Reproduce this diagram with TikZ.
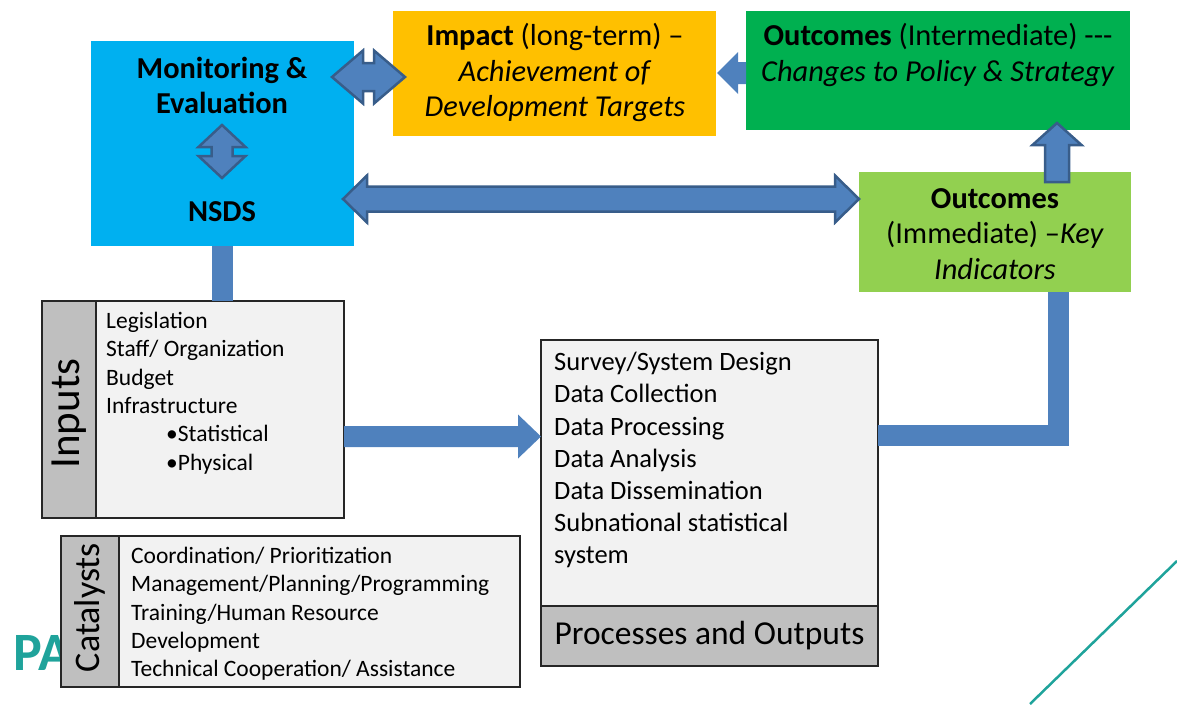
\documentclass[tikz,border=0pt]{standalone}
\usepackage{fontspec}
\setmainfont{Carlito}
\usetikzlibrary{calc}
\definecolor{mecyan}{HTML}{00B0F0}
\definecolor{impactorange}{HTML}{FFC000}
\definecolor{ointgreen}{HTML}{00B050}
\definecolor{oimmgreen}{HTML}{92D050}
\definecolor{arrowblue}{HTML}{4F81BD}
\definecolor{arrowedge}{HTML}{385D8A}
\definecolor{tabgray}{HTML}{BFBFBF}
\definecolor{listgray}{HTML}{F2F2F2}
\definecolor{logoteal}{HTML}{1FA39B}
% horizontal double block arrow: left end, right end, half shaft, half head, head length
\newcommand{\hdblarrow}[5]{%
  \draw[blockarrow] let \p1=(#1), \p2=(#2) in
    (\x1,\y1) -- (\x1+#5,\y1+#4) -- (\x1+#5,\y1+#3) -- (\x2-#5,\y1+#3)
    -- (\x2-#5,\y1+#4) -- (\x2,\y1) -- (\x2-#5,\y1-#4) -- (\x2-#5,\y1-#3)
    -- (\x1+#5,\y1-#3) -- (\x1+#5,\y1-#4) -- cycle;}
% vertical double block arrow: top end, bottom end, half shaft, half head, head length
\newcommand{\vdblarrow}[5]{%
  \draw[blockarrow] let \p1=(#1), \p2=(#2) in
    (\x1,\y1) -- (\x1+#4,\y1-#5) -- (\x1+#3,\y1-#5) -- (\x1+#3,\y2+#5)
    -- (\x1+#4,\y2+#5) -- (\x1,\y2) -- (\x1-#4,\y2+#5) -- (\x1-#3,\y2+#5)
    -- (\x1-#3,\y1-#5) -- (\x1-#4,\y1-#5) -- cycle;}
\begin{document}
\begin{tikzpicture}[x=1pt,y=-1pt,
  box/.style={rectangle, inner sep=0pt, outer sep=0pt},
  listbox/.style={box, draw=black!85, line width=1.3pt, fill=listgray},
  tab/.style={box, draw=black!85, line width=1.3pt, fill=tabgray},
  head/.style={inner sep=0pt, align=center, font=\fontsize{30.4}{35.5}\selectfont},
  items/.style={inner sep=0pt, align=left, anchor=north west, font=\fontsize{23.5}{28.3}\selectfont},
  blockarrow/.style={fill=arrowblue, draw=arrowedge, line width=2.5pt, line join=miter},
  flatarrow/.style={fill=arrowblue},
  conn/.style={draw=arrowblue, line width=21pt}]
\useasboundingbox (0,0) rectangle (1177,704);
% logo and corner line
\node[anchor=base west, inner sep=0pt, text=logoteal, font=\bfseries\fontsize{54}{54}\selectfont] (logo) at (13,670) {PA};
\draw[logoteal, line width=2.5pt] (1030,704) -- (1177,561);
% boxes
\node[box, fill=mecyan, minimum width=263, minimum height=205] (me) at (222.5,143.5) {};
\node[box, fill=impactorange, minimum width=323, minimum height=125] (impact) at (554.5,73.5) {};
\node[box, fill=ointgreen, minimum width=384, minimum height=119] (oint) at (938,70.5) {};
\node[box, fill=oimmgreen, minimum width=272, minimum height=120] (oimm) at (995,232) {};
\node[listbox, minimum width=302, minimum height=217] (inputs) at (193,409.5) {};
\node[tab, minimum width=54, minimum height=217, anchor=north west] (inputstab) at (inputs.north west) {};
\node[listbox, minimum width=459, minimum height=151] (cats) at (290.5,611.5) {};
\node[tab, minimum width=58, minimum height=151, anchor=north west] (catstab) at (cats.north west) {};
\node[listbox, minimum width=337, minimum height=266] (proc) at (709.5,473) {};
\node[tab, minimum width=337, minimum height=60, anchor=north, font=\fontsize{33.5}{33.5}\selectfont] (proclabel) at (proc.south) {Processes and Outputs};
% connectors
\draw[conn] (me.south) -- (me.south |- inputs.north);
\draw[conn] ([yshift=38]proc.east) -| ([xshift=63.5]oimm.south);
% arrows
\coordinate (impacttip) at (717,73);
\fill[flatarrow] let \p1=(impacttip), \p2=(oint.west) in
  (\x1,\y1) -- (\x1+21pt,\y1+21pt) -- (\x1+21pt,\y1+11pt) -- (\x2,\y1+11pt)
  -- (\x2,\y1-11pt) -- (\x1+21pt,\y1-11pt) -- (\x1+21pt,\y1-21pt) -- cycle;
\coordinate (ointtip) at (1057,123);
\coordinate (oimmtail) at (1057,182);
\draw[blockarrow] let \p1=(ointtip), \p2=(oimmtail) in
  (\x1,\y1) -- (\x1+24.5pt,\y1-22pt) -- (\x1+12pt,\y1-22pt) -- (\x1+12pt,\y2)
  -- (\x1-12pt,\y2) -- (\x1-12pt,\y1-22pt) -- (\x1-24.5pt,\y1-22pt) -- cycle;
\fill[flatarrow] let \p1=([yshift=-27]inputs.east), \p2=(proc.west) in
  (\x1,\y1+10.5pt) -- (\x2-23pt,\y1+10.5pt) -- (\x2-23pt,\y1+22pt) -- (\x2,\y1)
  -- (\x2-23pt,\y1-22pt) -- (\x2-23pt,\y1-10.5pt) -- (\x1,\y1-10.5pt) -- cycle;
\coordinate (meimpL) at (332,77);
\coordinate (meimpR) at (405,77);
\hdblarrow{meimpL}{meimpR}{14pt}{26.5pt}{31pt}
\coordinate (meT) at (222,125);
\coordinate (meB) at (222,178);
\vdblarrow{meT}{meB}{10.5pt}{23.5pt}{22pt}
\coordinate (nsdsL) at (343,199);
\coordinate (nsdsR) at (nsdsL -| oimm.west);
\hdblarrow{nsdsL}{nsdsR}{12.5pt}{23.5pt}{24pt}
% texts
\node[head, font=\bfseries\fontsize{30.4}{35}\selectfont] (metitle) at (222,85) {Monitoring \&\\Evaluation};
\node[head, font=\bfseries\fontsize{30.4}{35}\selectfont] (nsds) at (222,212) {NSDS};
\node[head] (impacttext) at (555,72.5) {\textbf{Impact} (long-term) –\\\textit{Achievement of}\\\textit{Development Targets}};
\node[head] (ointtext) at (938,55) {\textbf{Outcomes} (Intermediate) {-}{-}{-}\\\textit{Changes to Policy \& Strategy}};
\node[head] (oimmtext) at (995,234) {\textbf{Outcomes}\\(Immediate) –\textit{Key}\\\textit{Indicators}};
\node[items] (inputlist) at (106,312) {Legislation\\Staff/ Organization\\Budget\\Infrastructure\\\hspace*{60pt}•Statistical\\\hspace*{60pt}•Physical};
\node[items] (catlist) at (131,547) {Coordination/ Prioritization\\Management/Planning/Programming\\Training/Human Resource\\Development\\Technical Cooperation/ Assistance};
\node[items, font=\fontsize{26.5}{32.2}\selectfont] (proclist) at (554,352) {Survey/System Design\\Data Collection\\Data Processing\\Data Analysis\\Data Dissemination\\Subnational statistical\\system};
\node[rotate=90, inner sep=0pt, font=\fontsize{43}{43}\selectfont] (inputslabel) at ([yshift=-4]inputstab.center) {Inputs};
\node[rotate=90, inner sep=0pt, font=\fontsize{36}{36}\selectfont] (catslabel) at ([yshift=4]catstab.center) {Catalysts};
\end{tikzpicture}
\end{document}
